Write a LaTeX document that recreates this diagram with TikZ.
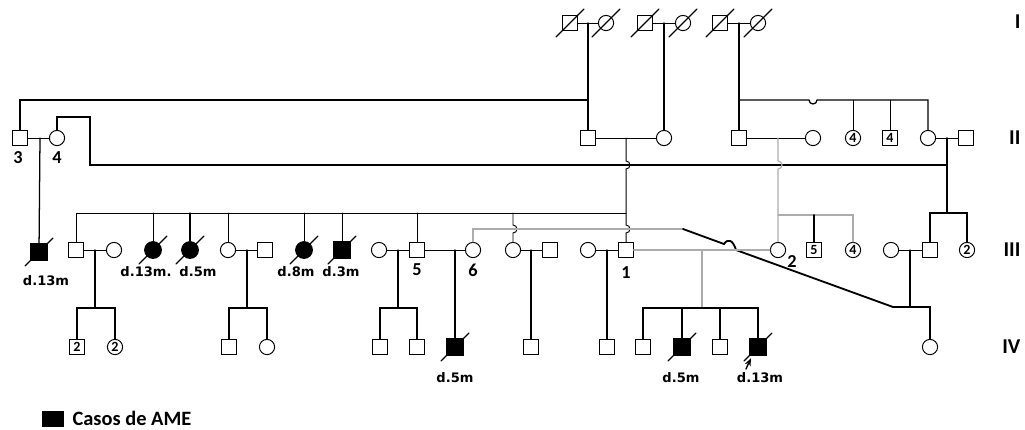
\documentclass[tikz,border=0pt]{standalone}
\usepackage{fontspec}
\setmainfont{DejaVu Sans}
\newfontfamily\calfont{Carlito}
\usetikzlibrary{arrows.meta}

\begin{document}
\begin{tikzpicture}[x=0.025cm,y=-0.025cm,line width=0.9pt,line cap=round,
  male/.style={draw,rectangle,minimum size=3.6mm,inner sep=0pt,line width=0.7pt,font=\calfont\bfseries\fontsize{10}{10}\selectfont},
  female/.style={draw,circle,minimum size=3.8mm,inner sep=0pt,line width=0.7pt,font=\calfont\bfseries\fontsize{10}{10}\selectfont},
  aff/.style={fill=black,minimum size=4.2mm},
  slash/.style={line width=0.8pt},
  mar/.style={line width=0.7pt},
  thk/.style={line width=1.3pt},
  lite/.style={gray!65,line width=0.8pt},
  num/.style={font=\calfont\bfseries\fontsize{13}{13}\selectfont,inner sep=0pt},
  age/.style={font=\bfseries\fontsize{9.3}{10}\selectfont,inner sep=0pt},
  gen/.style={font=\calfont\bfseries\fontsize{15}{15}\selectfont,anchor=east,inner sep=0pt}]
\useasboundingbox (0,0) rectangle (1025,429);

% generation I
\node[male] (i1m) at (570,23) {};
\node[female] (i1f) at (606,23) {};
\node[male] (i2m) at (645,23) {};
\node[female] (i2f) at (683,23) {};
\node[male] (i3m) at (720,23) {};
\node[female] (i3f) at (758,23) {};

% generation II
\node[male] (ii3) at (20,138) {};
\node[female] (ii4) at (57,138) {};
\node[male] (ii1m) at (588,138) {};
\node[female] (ii1f) at (664,138) {};
\node[male] (ii2m) at (739,138) {};
\node[female] (ii2f) at (813,138) {};
\node[female] (ii5) at (853,138) {4};
\node[male] (ii6) at (890,138) {4};
\node[female] (ii7) at (928,138) {};
\node[male] (ii8) at (966,138) {};
\node[num] (l3) at (18,158) {3};
\node[num] (l4) at (57,158) {4};

% generation III
\node[male,aff] (iii1) at (39,252) {};
\node[male] (iii2) at (76,250) {};
\node[female] (iii3) at (114,250) {};
\node[female,aff] (iii4) at (153,250) {};
\node[female,aff] (iii5) at (190,250) {};
\node[female] (iii6) at (228,250) {};
\node[male] (iii7) at (265,250) {};
\node[female,aff] (iii8) at (304,250) {};
\node[male,aff] (iii9) at (342,250) {};
\node[female] (iii10) at (379,250) {};
\node[male] (iii11) at (417,250) {};
\node[female] (iii12) at (473,250) {};
\node[female] (iii13) at (513,250) {};
\node[male] (iii14) at (550,250) {};
\node[female] (iii15) at (588,250) {};
\node[male] (iii16) at (626,250) {};
\node[female] (iii17) at (778,250) {};
\node[male] (iii18) at (814,250) {5};
\node[female] (iii19) at (853,250) {4};
\node[female] (iii20) at (891,250) {};
\node[male] (iii21) at (930,250) {};
\node[female] (iii22) at (967,250) {2};
\node[num] (l5) at (417,270) {5};
\node[num] (l6) at (473,270) {6};
\node[num] (l1) at (626,273) {1};
\node[num] (l2) at (792,262) {2};
\node[age] (a1) at (46,281) {d.13m};
\node[age] (a2) at (146,272) {d.13m.};
\node[age] (a3) at (198,272) {d.5m};
\node[age] (a4) at (296,272) {d.8m};
\node[age] (a5) at (341,272) {d.3m};

% generation IV
\node[male] (iv1) at (77,347) {2};
\node[female] (iv2) at (115,347) {2};
\node[male] (iv3) at (229,347) {};
\node[female] (iv4) at (267,347) {};
\node[male] (iv5) at (380,347) {};
\node[male] (iv6) at (417,347) {};
\node[male,aff] (iv7) at (455,347) {};
\node[male] (iv8) at (531,347) {};
\node[male] (iv9) at (607,347) {};
\node[male] (iv10) at (643,347) {};
\node[male,aff] (iv11) at (682,347) {};
\node[male] (iv12) at (720,347) {};
\node[male,aff] (iv13) at (758,347) {};
\node[female] (iv14) at (930,347) {};
\node[age] (a6) at (455,378) {d.5m};
\node[age] (a7) at (681,378) {d.5m};
\node[age] (a8) at (760,378) {d.13m};

% generation labels
\node[gen] (gI) at (1021,22) {I};
\node[gen] (gII) at (1021,138) {II};
\node[gen] (gIII) at (1021,250) {III};
\node[gen] (gIV) at (1021,347) {IV};

% deceased
\foreach \p in {i1m,i1f,i2m,i2f,i3m,i3f,iii1,iii4,iii5,iii8,iii9,iv7,iv11,iv13}
  \draw[slash] ([shift={(-14,14)}]\p.center) -- ([shift={(14,-14)}]\p.center);
\draw[-{Stealth[length=2mm]},line width=1pt] ([shift={(-12,22)}]iv13.center) -- ([shift={(-7,11)}]iv13.center);

% junctions
\coordinate (c1) at (588,23);
\coordinate (c2) at (664,23);
\coordinate (c3) at (739,23);
\coordinate (s1) at (588,100);
\coordinate (s3) at (739,100);
\coordinate (c4) at (40,138);
\coordinate (c5) at (626,138);
\coordinate (c6) at (778,138);
\coordinate (c7) at (947,138);
\coordinate (k1) at (90,117);
\coordinate (k2) at (90,165);
\coordinate (k3) at (947,165);
\coordinate (s5) at (626,213);
\coordinate (s6) at (778,215);
\coordinate (s7) at (947,213);
\coordinate (h1) at (683,229);
\coordinate (h2) at (724,244);
\coordinate (h3) at (736,250);
\coordinate (s9) at (893,307);
\coordinate (c8) at (95,250);
\coordinate (s8) at (95,308);
\coordinate (c10) at (247,250);
\coordinate (s10) at (247,308);
\coordinate (c11) at (398,250);
\coordinate (s11) at (398,308);
\coordinate (c12) at (455,250);
\coordinate (c13) at (531,250);
\coordinate (c14) at (607,250);
\coordinate (c15) at (702,250);
\coordinate (s15) at (702,308);
\coordinate (c16) at (910,250);

% generation I lines
\draw[mar] (i1m) -- (i1f);
\draw[mar] (i2m) -- (i2f);
\draw[mar] (i3m) -- (i3f);
\draw (c1) -- (ii1m);
\draw (c2) -- (ii1f);
\draw (c3) -- (ii2m);
\draw[thk] (ii3) |- (s1);
\draw (s3) -- ++(70,0) arc[start angle=180,end angle=360,radius=0.1cm] -| (ii7);
\draw[mar] (ii5 |- s3) -- (ii5);
\draw[mar] (ii6 |- s3) -- (ii6);

% generation II lines
\draw[mar] (ii3) -- (ii4);
\draw (c4) -- (iii1);
\draw (ii4) |- (k1) -- (k2) -- (k3);
\draw[mar] (ii1m) -- (ii1f);
\draw[mar] (c5) -- ++(0,23) arc[start angle=90,end angle=-90,radius=0.1cm] -- ++(0,56) arc[start angle=90,end angle=-90,radius=0.1cm] -- (iii16);
\draw[mar] (ii2m) -- (ii2f);
\draw[lite] (c6) -- ++(0,23) arc[start angle=90,end angle=-90,radius=0.1cm] -- (iii17);
\draw[lite] (s6) -| (iii19);
\draw[thk] (iii18 |- s6) -- (iii18);
\draw[mar] (ii7) -- (ii8);
\draw[thk] (c7) -- (s7);
\draw (iii21) |- (s7) -| (iii22);

% generation III lines
\draw[mar] (iii2) |- (s5);
\foreach \n in {iii4,iii6,iii8,iii9,iii11}
  \draw[mar] (\n |- s5) -- (\n);
\draw (iii5 |- s5) -- (iii5);
\draw[mar] (iii13 |- s5) -- ++(0,12) arc[start angle=90,end angle=-90,radius=0.1cm] -- (iii13);
\draw[lite] (iii12) |- (h1);
\draw[thk] (h1) -- (h2) .. controls (728,238) and (733,240) .. (h3) -- (s9) -| (iv14);
\draw[mar] (iii2) -- (iii3);
\draw (c8) -- (s8);
\draw (iv1) |- (s8) -| (iv2);
\draw[mar] (iii6) -- (iii7);
\draw (c10) -- (s10);
\draw (iv3) |- (s10) -| (iv4);
\draw[mar] (iii10) -- (iii11);
\draw (c11) -- (s11);
\draw (iv5) |- (s11) -| (iv6);
\draw[mar] (iii11) -- (iii12);
\draw (c12) -- (iv7);
\draw[mar] (iii13) -- (iii14);
\draw (c13) -- (iv8);
\draw[mar] (iii15) -- (iii16);
\draw (c14) -- (iv9);
\draw[lite] (iii16) -- (iii17);
\draw[lite] (c15) -- (s15);
\draw (iv10) |- (s15) -| (iv13);
\draw (iv11 |- s15) -- (iv11);
\draw (iv12 |- s15) -- (iv12);
\draw[mar] (iii20) -- (iii21);
\draw (c16) -- (c16 |- s9);

% legend
\node[fill=black,minimum width=5.5mm,minimum height=4.2mm,inner sep=0pt] (leg) at (53,419) {};
\node[anchor=west,font=\calfont\bfseries\fontsize{14.5}{15}\selectfont,inner sep=0pt] (legt) at (72,418) {Casos de AME};
\end{tikzpicture}
\end{document}
